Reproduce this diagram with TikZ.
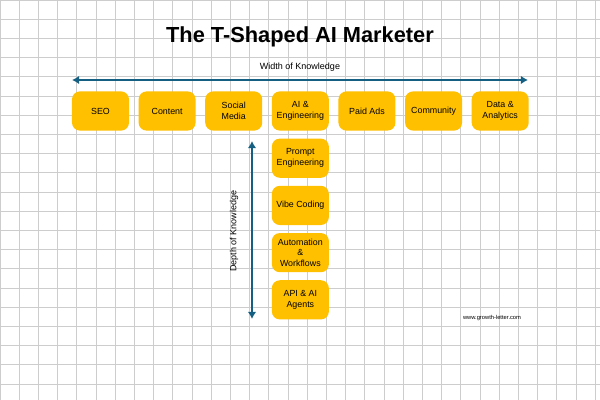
\documentclass[tikz,border=0pt]{standalone}
\usepackage{fontspec}
\setmainfont{Liberation Sans}
\usetikzlibrary{arrows.meta,positioning}
\definecolor{skillgold}{HTML}{FFC000}
\definecolor{axisblue}{HTML}{156082}
\definecolor{gridgray}{HTML}{CDCDCD}

\tikzset{
  skill/.style={fill=skillgold, rounded corners=0.2cm, minimum width=1.425cm,
    minimum height=0.98cm, align=center, inner sep=1pt, outer sep=0pt,
    font=\fontsize{6.3}{7.6}\selectfont},
  axis/.style={draw=axisblue, line width=2pt,
    {Latex[length=5pt,width=6pt]}-{Latex[length=5pt,width=6pt]}},
  axislabel/.style={font=\fontsize{6.4}{7.6}\selectfont}
}

\begin{document}
\begin{tikzpicture}[x=0.025cm, y=-0.025cm]
\useasboundingbox (0,0) rectangle (600,400);
\fill[white] (0,0) rectangle (600,400);
\draw[gridgray, line width=0.7pt, step=0.48cm] (0,400) grid (600,0);

% title
\node[font=\bfseries\fontsize{15.5}{18}\selectfont] (title) at (300,37) {The T-Shaped AI Marketer};

% width axis
\node[axislabel] (widthlabel) at (300,67) {Width of Knowledge};
\coordinate (wl) at (72,80);
\coordinate (wr) at (528,80);
\draw[axis] (wl) -- (wr);

% top row
\node[skill] (seo) at (100.5,111) {SEO};
\node[skill, right=0.24cm of seo] (content) {Content};
\node[skill, right=0.24cm of content] (social) {Social\\Media};
\node[skill, right=0.24cm of social] (ai) {AI \&\\Engineering};
\node[skill, right=0.24cm of ai] (paid) {Paid Ads};
\node[skill, right=0.24cm of paid] (community) {Community};
\node[skill, right=0.24cm of community] (data) {Data \&\\Analytics};

% stem
\node[skill, below=0.2cm of ai] (prompt) {Prompt\\Engineering};
\node[skill, below=0.2cm of prompt] (vibe) {Vibe Coding};
\node[skill, below=0.2cm of vibe] (automation) {Automation\\\&\\Workflows};
\node[skill, below=0.2cm of automation] (agents) {API \& AI\\Agents};

% depth axis
\coordinate (dt) at (252,141);
\coordinate (db) at (252,319);
\draw[axis] (dt) -- (db);
\node[axislabel, rotate=90] (depthlabel) at (234,231) {Depth of Knowledge};

\node[font=\fontsize{4.1}{5}\selectfont] (site) at (492,318) {www.growth-letter.com};
\end{tikzpicture}
\end{document}
